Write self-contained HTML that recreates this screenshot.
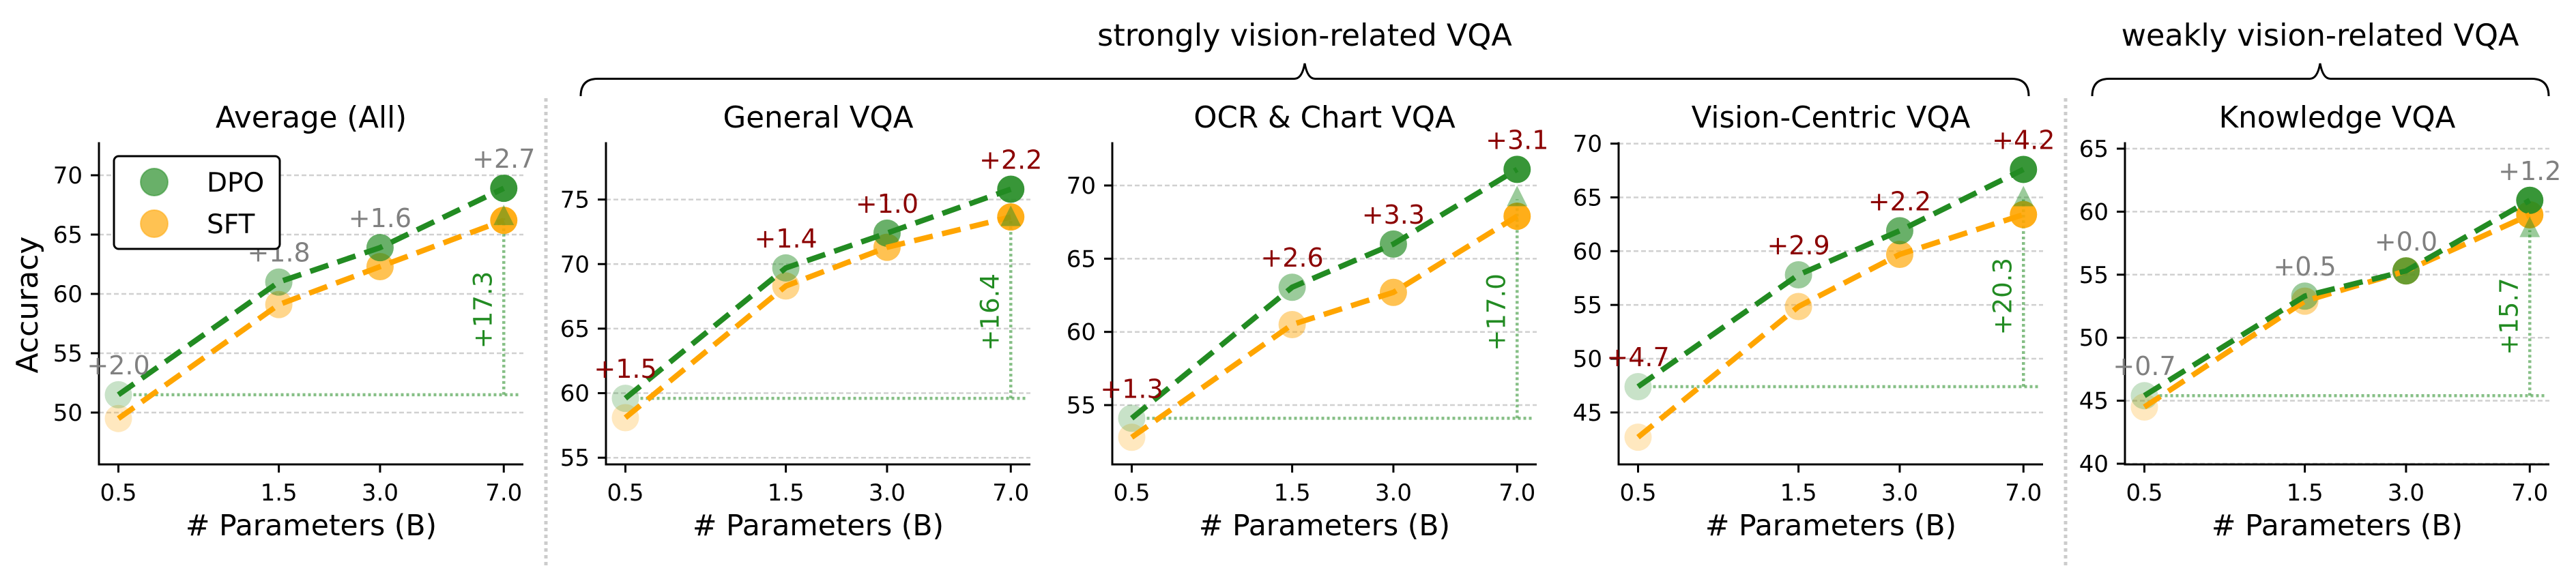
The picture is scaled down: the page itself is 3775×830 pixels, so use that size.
<!DOCTYPE html>
<html><head><meta charset="utf-8">
<style>
html,body{margin:0;padding:0;background:#fff;}
svg{display:block;font-family:"DejaVu Sans","Liberation Sans",sans-serif;}
</style></head>
<body>
<svg id="s" width="3775" height="830" xmlns="http://www.w3.org/2000/svg">
<rect width="3775" height="830" fill="#fff"/>
<line x1="800" y1="144" x2="800" y2="830" stroke="#cccccc" stroke-width="5" stroke-dasharray="5 5"/>
<line x1="3027" y1="144" x2="3027" y2="830" stroke="#cccccc" stroke-width="5" stroke-dasharray="5 5"/>
<path d="M851,141 Q851,115.5 876,115.5 L1897,115.5 Q1908,115.5 1912,93 Q1916,115.5 1927,115.5 L2948,115.5 Q2973,115.5 2973,141" fill="none" stroke="#000" stroke-width="3"/>
<text x="1912" y="67" font-size="44.5" text-anchor="middle">strongly vision-related VQA</text>
<path d="M3066,141 Q3066,115.5 3091,115.5 L3385,115.5 Q3396,115.5 3400,93 Q3404,115.5 3415,115.5 L3710,115.5 Q3735,115.5 3735,141" fill="none" stroke="#000" stroke-width="3"/>
<text x="3400" y="67" font-size="44.5" text-anchor="middle">weakly vision-related VQA</text>
<text transform="translate(55,447) rotate(-90)" font-size="44" text-anchor="middle">Accuracy</text>
<g id="g"></g>
</svg>
<script>
var NS="http://www.w3.org/2000/svg";
var g=document.getElementById("g");
function el(t,a,txt){var e=document.createElementNS(NS,t);for(var k in a)e.setAttribute(k,a[k]);if(txt!==undefined)e.textContent=txt;g.appendChild(e);return e;}
var panels=[
 {L:145,title:"Average (All)",ref:70,ry:257,u:17.4,ticks:[50,55,60,65,70],
  d:[51.5,61.0,63.9,68.9],s:[49.5,59.1,62.3,66.2],lab:["+2.0","+1.8","+1.6","+2.7"],lc:"#808080",v:"+17.3"},
 {L:888,title:"General VQA",ref:75,ry:292.6,u:18.93,ticks:[55,60,65,70,75],
  d:[59.6,69.7,72.4,75.8],s:[58.1,68.3,71.3,73.65],lab:["+1.5","+1.4","+1.0","+2.2"],lc:"#8b0000",v:"+16.4"},
 {L:1630,title:"OCR & Chart VQA",ref:70,ry:272,u:21.47,ticks:[55,60,65,70],
  d:[54.1,63.05,66.0,71.1],s:[52.8,60.5,62.7,67.9],lab:["+1.3","+2.6","+3.3","+3.1"],lc:"#8b0000",v:"+17.0"},
 {L:2372,title:"Vision-Centric VQA",ref:70,ry:210.6,u:15.77,ticks:[45,50,55,60,65,70],
  d:[47.4,57.8,61.9,67.6],s:[42.7,54.85,59.7,63.4],lab:["+4.7","+2.9","+2.2","+4.2"],lc:"#8b0000",v:"+20.3"},
 {L:3114,title:"Knowledge VQA",ref:65,ry:218,u:18.48,ticks:[40,45,50,55,60,65],
  d:[45.4,53.3,55.3,60.9],s:[44.5,52.9,55.3,59.75],lab:["+0.7","+0.5","+0.0","+1.2"],lc:"#808080",v:"+15.7"}
];
var xs=[0.5,1.5,3.0,7.0],xl=["0.5","1.5","3.0","7.0"],al=[0.25,0.45,0.68,0.9];
var G="#228b22",O="#ffa500",TOP=208.5,BOT=681,W=622;
panels.forEach(function(p){
 function X(v){return p.L+28.5+214*Math.log(v/0.5);}
 function Y(v){return p.ry+(p.ref-v)*p.u;}
 var R=p.L+W;
 p.ticks.forEach(function(t){var y=Y(t);
  el("line",{x1:p.L,y1:y,x2:R,y2:y,stroke:"#d0d0d0","stroke-width":2.5,"stroke-dasharray":"7 4"});
  el("line",{x1:p.L-12,y1:y,x2:p.L,y2:y,stroke:"#000","stroke-width":3});
  el("text",{x:p.L-24,y:y+12,"font-size":34,"text-anchor":"end"},String(t));});
 xs.forEach(function(v,i){var x=X(v);
  el("line",{x1:x,y1:BOT,x2:x,y2:BOT+12,stroke:"#000","stroke-width":3});
  el("text",{x:x,y:734,"font-size":34,"text-anchor":"middle"},xl[i]);});
 el("line",{x1:p.L,y1:TOP,x2:p.L,y2:BOT+1.5,stroke:"#000","stroke-width":3});
 el("line",{x1:p.L-1.5,y1:BOT,x2:R,y2:BOT,stroke:"#000","stroke-width":3});
 el("text",{x:p.L+311,y:187,"font-size":43.5,"text-anchor":"middle"},p.title);
 el("text",{x:p.L+311,y:785,"font-size":42.5,"text-anchor":"middle"},"# Parameters (B)");
 var by=Y(p.d[0]),x7=X(7),ty=Y(p.d[3])+24;
 el("line",{x1:X(0.5)+22,y1:by,x2:x7+22,y2:by,stroke:G,"stroke-opacity":0.55,"stroke-width":4.5,"stroke-dasharray":"4 4"});
 el("line",{x1:x7,y1:by,x2:x7,y2:ty+20,stroke:G,"stroke-opacity":0.55,"stroke-width":4.5,"stroke-dasharray":"4 4"});
 xs.forEach(function(v,i){
  el("circle",{cx:X(v),cy:Y(p.s[i]),r:20,fill:O,"fill-opacity":al[i]});
  el("circle",{cx:X(v),cy:Y(p.d[i]),r:20,fill:G,"fill-opacity":al[i]});});
 var ps="",pd="";
 xs.forEach(function(v,i){ps+=(i?"L":"M")+X(v)+","+Y(p.s[i]);pd+=(i?"L":"M")+X(v)+","+Y(p.d[i]);});
 el("path",{d:ps,fill:"none",stroke:O,"stroke-width":8,"stroke-dasharray":"28 14"});
 el("path",{d:pd,fill:"none",stroke:G,"stroke-width":8,"stroke-dasharray":"28 14"});
 el("path",{d:"M"+x7+","+ty+" L"+(x7-15)+","+(ty+30)+" L"+(x7+15)+","+(ty+30)+"Z",fill:G,"fill-opacity":0.45});
 var my=(by+ty+30)/2;
 el("text",{transform:"translate("+(x7-18)+","+my+") rotate(-90)","font-size":37,"text-anchor":"middle",fill:G},p.v);
 xs.forEach(function(v,i){el("text",{x:X(v),y:Y(p.d[i])-30,"font-size":38,"text-anchor":"middle",fill:p.lc},p.lab[i]);});
});
el("rect",{x:167,y:229,width:243,height:136,rx:7,fill:"#fff",stroke:"#000","stroke-width":3});
el("circle",{cx:226,cy:267,r:20,fill:G,"fill-opacity":0.68,stroke:G,"stroke-opacity":0.5,"stroke-width":2});
el("circle",{cx:226,cy:328,r:20,fill:O,"fill-opacity":0.68,stroke:O,"stroke-opacity":0.5,"stroke-width":2});
el("text",{x:303,y:281,"font-size":39},"DPO");
el("text",{x:303,y:342,"font-size":39},"SFT");
</script>
</body></html>
